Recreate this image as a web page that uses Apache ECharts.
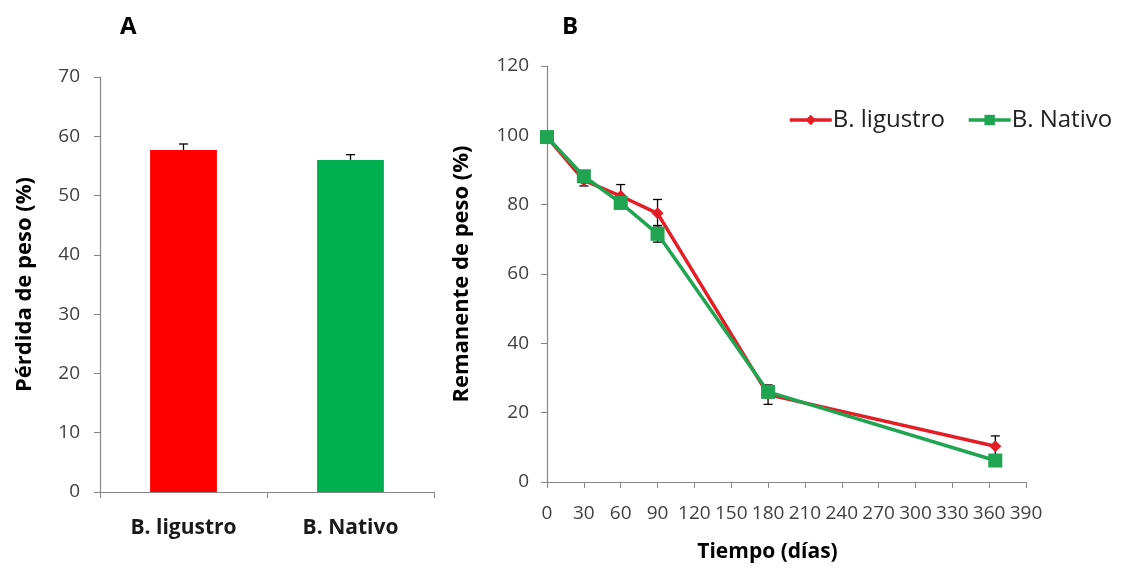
<!DOCTYPE html>
<html>
<head>
<meta charset="utf-8">
<script src="https://cdn.jsdelivr.net/npm/echarts@6/dist/echarts.min.js"></script>
<style>html,body{margin:0;padding:0;background:#fff}#c{width:1135px;height:568px}</style>
</head>
<body>
<div id="c"></div>
<script>
// Panel A data
const barCategories = ['B. ligustro', 'B. Nativo'];
const barValues = [57.7, 56.0];
const barErrors = [1.0, 0.9];
const barYTicks = {min: 0, max: 70, interval: 10};

// Panel B data
const days = [0, 30, 60, 90, 180, 365];
const ligustroValues = [99.5, 87.0, 82.5, 77.5, 25.2, 10.3];
const ligustroErrors = [0.5, 1.6, 3.3, 4.0, 2.8, 3.0];
const nativoValues = [99.5, 88.2, 80.5, 71.6, 26.0, 6.2];
const nativoErrors = [0.5, 1.0, 1.5, 2.4, 1.5, 1.5];
const lineXTicks = {min: 0, max: 390, interval: 30};
const lineYTicks = {min: 0, max: 120, interval: 20};

const FONT = 'Open Sans';
const AX = '#868686';
const LBL = '#404040';
const RED_BAR = '#FF0000', GREEN_BAR = '#00B050';
const RED_LINE = '#E41E26', GREEN_LINE = '#1FA451';

function errorRender(params, api) {
  const x = api.value(0), y = api.value(1), e = api.value(2);
  const top = api.coord([x, y + e]);
  const bot = api.coord([x, y - e]);
  const w = 4.5;
  const style = {stroke: '#000', lineWidth: 1.3};
  return {type: 'group', children: [
    {type: 'line', shape: {x1: top[0], y1: top[1], x2: bot[0], y2: bot[1]}, style},
    {type: 'line', shape: {x1: top[0]-w, y1: top[1], x2: top[0]+w, y2: top[1]}, style},
    {type: 'line', shape: {x1: bot[0]-w, y1: bot[1], x2: bot[0]+w, y2: bot[1]}, style}
  ]};
}

const chart = echarts.init(document.getElementById('c'), null, {renderer: 'canvas'});
chart.setOption({
  animation: false,
  backgroundColor: '#fff',
  textStyle: {fontFamily: FONT},
  title: [
    {text: 'A', left: 115, top: 10, textStyle: {fontFamily: FONT, fontWeight: 'bold', fontSize: 24, color: '#000'}},
    {text: 'B', left: 557, top: 10, textStyle: {fontFamily: FONT, fontWeight: 'bold', fontSize: 24, color: '#000'}}
  ],
  legend: {
    left: 783, top: 103,
    itemWidth: 42, itemHeight: 13, itemGap: 22,
    lineStyle: {width: 3.5},
    itemStyle: {borderWidth: 0},
    textStyle: {fontFamily: FONT, fontSize: 24, color: '#222', padding: [0, 0, 0, -4]},
    data: ['B. ligustro', 'B. Nativo']
  },
  grid: [
    {left: 100, top: 77, width: 334, height: 415},
    {left: 547, top: 66, width: 479, height: 418}
  ],
  xAxis: [
    {
      gridIndex: 0, type: 'category', data: barCategories,
      axisLine: {lineStyle: {color: AX, width: 1.2}},
      axisTick: {show: true, length: 6, lineStyle: {color: AX}},
      axisLabel: {margin: 26, fontFamily: FONT, fontWeight: 'bold', fontSize: 21, color: '#1a1a1a'}
    },
    {
      gridIndex: 1, type: 'value', min: lineXTicks.min, max: lineXTicks.max, interval: lineXTicks.interval,
      splitLine: {show: false},
      axisLine: {onZero: false, lineStyle: {color: AX, width: 1.2}},
      axisTick: {show: true, length: 6, lineStyle: {color: AX}},
      axisLabel: {margin: 22, fontFamily: FONT, fontSize: 19, color: LBL},
      name: 'Tiempo (días)', nameLocation: 'middle', nameGap: 60,
      nameTextStyle: {fontFamily: FONT, fontWeight: 'bold', fontSize: 21, color: '#000', padding: [0, 38, 0, 0]}
    }
  ],
  yAxis: [
    {
      gridIndex: 0, type: 'value', min: barYTicks.min, max: barYTicks.max, interval: barYTicks.interval,
      splitLine: {show: false},
      axisLine: {show: true, lineStyle: {color: AX, width: 1.2}},
      axisTick: {show: true, length: 6, lineStyle: {color: AX}},
      axisLabel: {margin: 20, fontFamily: FONT, fontSize: 19, color: LBL},
      name: 'Pérdida de peso (%)', nameLocation: 'middle', nameGap: 64,
      nameTextStyle: {fontFamily: FONT, fontWeight: 'bold', fontSize: 22, color: '#000'}
    },
    {
      gridIndex: 1, type: 'value', min: lineYTicks.min, max: lineYTicks.max, interval: lineYTicks.interval,
      splitLine: {show: false},
      axisLine: {show: true, lineStyle: {color: AX, width: 1.2}},
      axisTick: {show: true, length: 6, lineStyle: {color: AX}},
      axisLabel: {margin: 18, fontFamily: FONT, fontSize: 19, color: LBL},
      name: 'Remanente de peso (%)', nameLocation: 'middle', nameGap: 74,
      nameTextStyle: {fontFamily: FONT, fontWeight: 'bold', fontSize: 22, color: '#000'}
    }
  ],
  series: [
    {
      type: 'custom', xAxisIndex: 0, yAxisIndex: 0, renderItem: errorRender,
      data: barValues.map((v, i) => [i, v, barErrors[i]]), z: 1, silent: true
    },
    {
      type: 'bar', xAxisIndex: 0, yAxisIndex: 0, barWidth: '40%',
      data: barValues.map((v, i) => ({value: v, itemStyle: {color: i === 0 ? RED_BAR : GREEN_BAR}})),
      z: 2
    },
    {
      type: 'custom', xAxisIndex: 1, yAxisIndex: 1, renderItem: errorRender,
      data: days.map((d, i) => [d, ligustroValues[i], ligustroErrors[i]]), z: 1, silent: true
    },
    {
      type: 'custom', xAxisIndex: 1, yAxisIndex: 1, renderItem: errorRender,
      data: days.map((d, i) => [d, nativoValues[i], nativoErrors[i]]), z: 1, silent: true
    },
    {
      name: 'B. ligustro', type: 'line', xAxisIndex: 1, yAxisIndex: 1,
      data: days.map((d, i) => [d, ligustroValues[i]]),
      symbol: 'diamond', symbolSize: 12,
      lineStyle: {color: RED_LINE, width: 3.5},
      itemStyle: {color: RED_LINE}, z: 3
    },
    {
      name: 'B. Nativo', type: 'line', xAxisIndex: 1, yAxisIndex: 1,
      data: days.map((d, i) => [d, nativoValues[i]]),
      symbol: 'rect', symbolSize: 14,
      lineStyle: {color: GREEN_LINE, width: 3.5},
      itemStyle: {color: GREEN_LINE}, z: 4
    }
  ]
});
</script>
</body>
</html>
